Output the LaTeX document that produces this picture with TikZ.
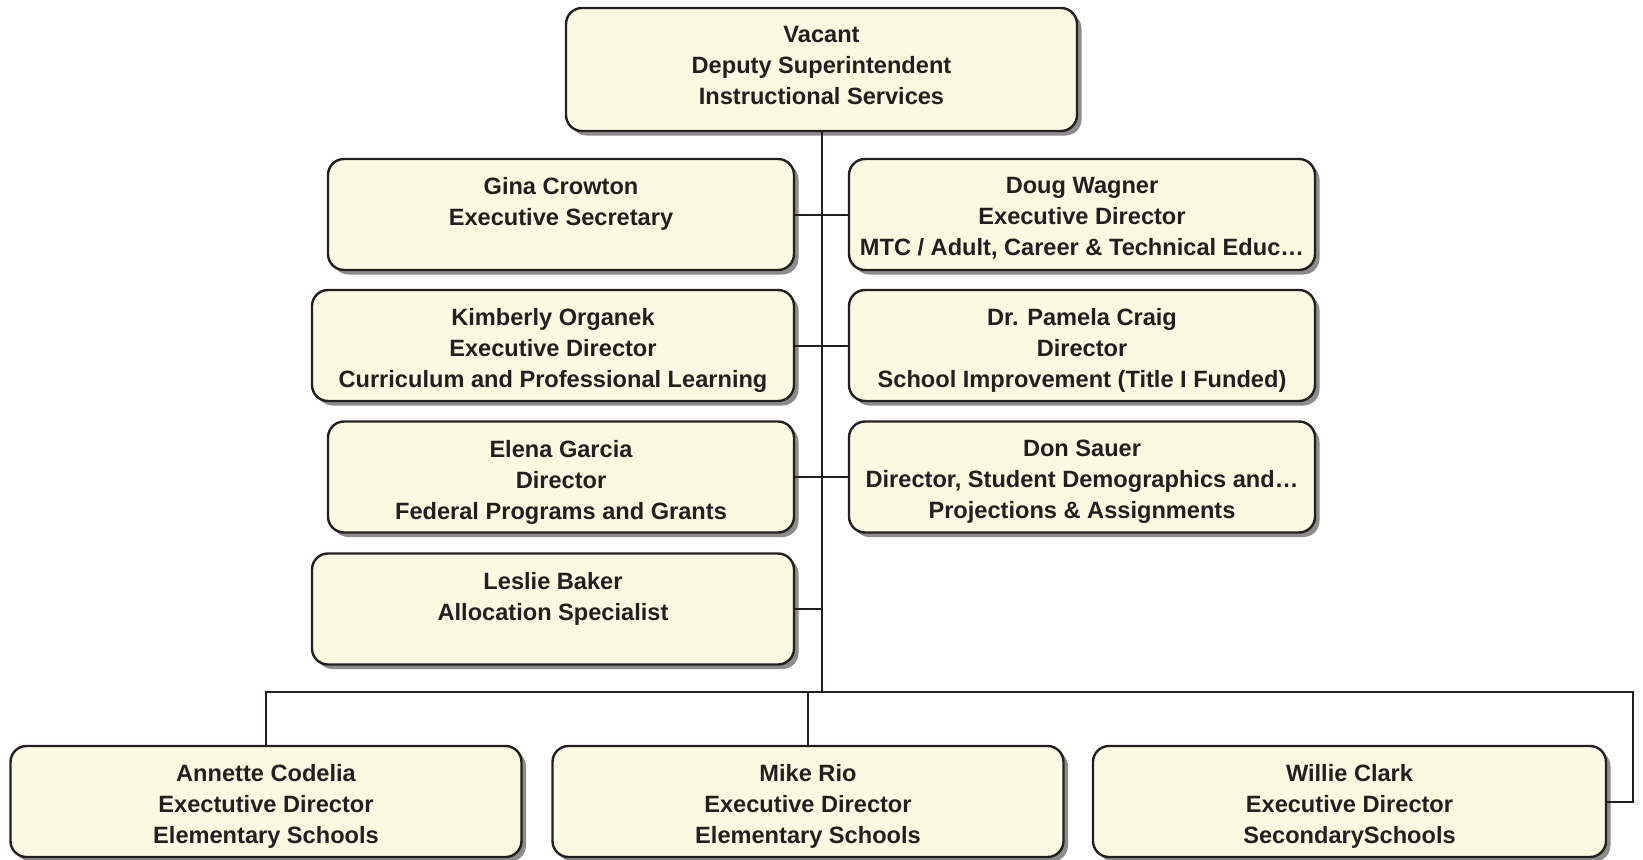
\documentclass[tikz,border=0pt]{standalone}
\usepackage{fontspec}
\setmainfont{Liberation Sans}
\usetikzlibrary{shadows}
\definecolor{boxfill}{RGB}{252,249,225}
\definecolor{shadowgray}{RGB}{140,140,140}
\definecolor{linecol}{RGB}{35,31,32}
\newcommand\orgbody[3]{\parbox[c][#2][t]{#1}{\centering\fontsize{23.6}{31}\selectfont\bfseries\vspace*{18.5pt}#3\par}}
\begin{document}
\begin{tikzpicture}[x=1pt,y=-1pt,
  box/.style={draw=linecol, line width=2.4pt, fill=boxfill, text=linecol,
    rounded corners=16pt, inner sep=0pt,
    drop shadow={shadow xshift=4.5pt, shadow yshift=-4.5pt, fill=shadowgray, opacity=1}},
  conn/.style={draw=linecol, line width=2pt}]
\useasboundingbox (0,0) rectangle (1643,859);
\fill[white] (0,0) rectangle (1643,859);

\node[box] (top) at (821.5,69.5) {\orgbody{511pt}{123pt}{Vacant\\Deputy Superintendent\\Instructional Services}};

\node[box] (gina) at (561,214.5) {\orgbody{466pt}{111pt}{Gina Crowton\\Executive Secretary}};
\node[box] (doug) at (1082,214.5) {\orgbody{466pt}{111pt}{Doug Wagner\\Executive Director\\MTC / Adult, Career \& Technical Educ…}};
\node[box] (kim) at (553,345.5) {\orgbody{482pt}{111pt}{Kimberly Organek\\Executive Director\\Curriculum and Professional Learning}};
\node[box] (pam) at (1082,345.5) {\orgbody{466pt}{111pt}{Dr. Pamela Craig\\Director\\School Improvement (Title I Funded)}};
\node[box] (elena) at (561,477) {\orgbody{466pt}{111pt}{Elena Garcia\\Director\\Federal Programs and Grants}};
\node[box] (don) at (1082,477) {\orgbody{466pt}{111pt}{Don Sauer\\Director, Student Demographics and…\\Projections \& Assignments}};
\node[box] (leslie) at (553,609) {\orgbody{482pt}{111pt}{Leslie Baker\\Allocation Specialist}};

\node[box] (ann) at (266,801.5) {\orgbody{511pt}{111pt}{Annette Codelia\\Exectutive Director\\Elementary Schools}};
\node[box] (mike) at (808,801.5) {\orgbody{511pt}{111pt}{Mike Rio\\Executive Director\\Elementary Schools}};
\node[box] (wil) at (1349.5,801.5) {\orgbody{513pt}{111pt}{Willie Clark\\Executive Director\\SecondarySchools}};

\coordinate (busR) at (1632.5,691.5);
\draw[conn] (top.south) -- (top.south |- busR);
\foreach \n in {gina,kim,elena,leslie} \draw[conn] (\n.east) -- (\n.east -| top.south);
\foreach \n in {doug,pam,don} \draw[conn] (\n.west) -- (\n.west -| top.south);
\draw[conn] (ann.north) -- (ann.north |- busR) -- (busR) |- (wil.east);
\draw[conn] (mike.north) -- (mike.north |- busR);
\end{tikzpicture}
\end{document}
